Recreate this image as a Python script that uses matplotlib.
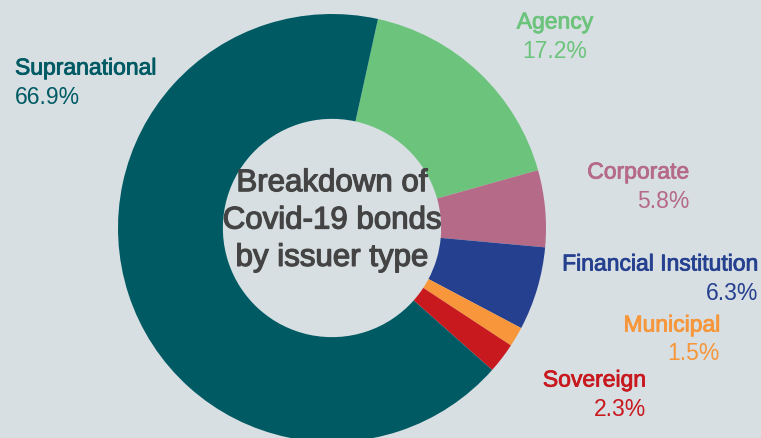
import matplotlib.pyplot as plt
import matplotlib.patheffects as pe

# issuer types, clockwise from the top
labels = ["Agency", "Corporate", "Financial Institution", "Municipal", "Sovereign", "Supranational"]
shares = [17.2, 5.8, 6.3, 1.5, 2.3, 66.9]
colors = ["#6cc47c", "#b56b87", "#25408f", "#f7963a", "#c8191f", "#005a64"]

bg = "#d7dfe2"
W, H = 761, 438
cx, cy, R = 332, 228, 214

fig = plt.figure(figsize=(W / 100, H / 100), dpi=100, facecolor=bg)
ax = fig.add_axes([(cx - R) / W, (H - cy - R) / H, 2 * R / W, 2 * R / H])
ax.set_facecolor(bg)
ax.pie(shares, colors=colors, startangle=77.6, counterclock=False,
       radius=1, wedgeprops=dict(width=0.49, linewidth=0))
ax.set_xlim(-1, 1)
ax.set_ylim(-1, 1)
ax.axis("off")

ax.text(0, 0.035, "Breakdown of\nCovid-19 bonds\nby issuer type", ha="center", va="center",
        fontsize=22.5, color="#444444", family="Liberation Sans", linespacing=1.32,
        path_effects=[pe.withStroke(linewidth=0.9, foreground="#444444")])

# label positions in pixels: (x, y of name, alignment)
label_pos = {
    "Supranational": (15, 68, "left"),
    "Agency": (555, 22, "center"),
    "Corporate": (689, 172, "right"),
    "Financial Institution": (758, 264, "right"),
    "Municipal": (720, 325, "right"),
    "Sovereign": (646, 380, "right"),
}
for lab, val, col in zip(labels, shares, colors):
    x, y, ha = label_pos[lab]
    fig.text(x / W, 1 - y / H, lab, ha=ha, va="center", fontsize=16.5,
             color=col, family="Liberation Sans",
             path_effects=[pe.withStroke(linewidth=0.6, foreground=col)])
    fig.text(x / W, 1 - (y + 29) / H, "%.1f%%" % val, ha=ha, va="center",
             fontsize=16.5, color=col, family="Liberation Sans")

fig.savefig("out.png", dpi=100, facecolor=bg)
